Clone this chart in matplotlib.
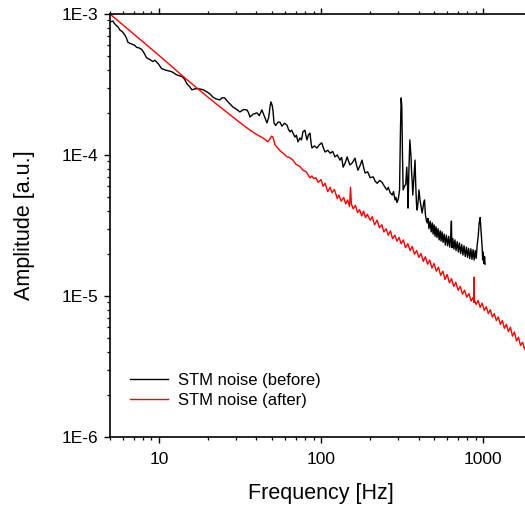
import matplotlib
matplotlib.use("Agg")
import matplotlib.pyplot as plt
from matplotlib.ticker import LogLocator, FixedLocator, FixedFormatter, NullFormatter

plt.rcParams["font.family"] = ["Liberation Sans", "DejaVu Sans"]

# STM noise spectrum before the fix (black)
before_freq = [
    5.0, 5.2, 5.4, 5.6, 5.75, 5.95, 6.17, 6.3, 6.45, 6.62, 6.85, 7.1, 7.3, 7.55, 7.85,
    8.1, 8.4, 8.8, 9.2, 9.45, 9.9, 10.4, 11.0, 11.5, 12.0, 12.9, 13.9, 14.4, 14.9, 15.5,
    16.0, 16.8, 17.9, 18.8, 19.8, 20.6, 21.5, 22.5, 23.8, 24.6, 25.5, 26.7, 27.5, 28.6,
    30.0, 31.6, 33.3, 34.9, 35.7, 36.5, 38.2, 40.3, 41.6, 43.2, 44.2, 45.1, 46.4, 47.6,
    48.5, 49.1, 50.0, 50.6, 51.3, 52.5, 54.3, 55.8, 57.5, 59.5, 61.7, 63.0, 64.4, 65.8,
    67.2, 69.1, 70.5, 72.1, 74.2, 75.8, 77.4, 79.6, 81.0, 82.0, 83.5, 85.5, 87.0, 88.0,
    91.0, 94.5, 97.5, 101, 103.5, 106, 110, 114, 118, 122, 126, 131, 134, 137, 141, 145,
    148, 151, 156, 162, 165, 169, 174, 179, 183, 187, 194, 201, 210, 216, 222, 230, 238,
    246, 255, 260, 267, 275, 280, 286, 290, 294, 300, 305, 309, 312, 315, 318, 321, 327,
    333, 338, 341, 344, 348, 353, 356, 359, 362, 365, 368, 371, 376, 380, 384, 388, 392,
    397, 402, 408, 414, 420, 425, 430, 435, 440, 445, 451, 457, 463, 471, 478, 485, 491,
    498, 505, 512, 519, 527, 535, 543, 550, 558, 566, 575, 584, 593, 603, 613, 622, 630,
    637, 641, 650, 660, 670, 680, 692, 703, 714, 726, 738, 750, 762, 775, 788, 800, 813,
    826, 840, 853, 866, 880, 893, 906, 918, 931, 945, 958, 968, 976, 986, 993, 1000, 1010,
    1020, 1028,
]
before_amp = [
    8.8e-4, 8.9e-4, 8.4e-4, 8.1e-4, 7.7e-4, 7.5e-4, 7.1e-4, 6.8e-4, 6.3e-4, 6.2e-4, 6.1e-4,
    6.0e-4, 5.8e-4, 5.75e-4, 5.6e-4, 5.3e-4, 4.9e-4, 4.75e-4, 4.6e-4, 4.7e-4, 4.45e-4,
    4.1e-4, 4.0e-4, 3.95e-4, 3.9e-4, 3.7e-4, 3.6e-4, 3.45e-4, 3.2e-4, 3.05e-4, 2.9e-4,
    2.95e-4, 2.94e-4, 2.9e-4, 2.8e-4, 2.72e-4, 2.58e-4, 2.5e-4, 2.46e-4, 2.55e-4, 2.54e-4,
    2.38e-4, 2.3e-4, 2.19e-4, 2.12e-4, 2.02e-4, 2.1e-4, 2.09e-4, 2.0e-4, 1.86e-4, 1.95e-4,
    1.99e-4, 1.9e-4, 2.09e-4, 1.95e-4, 1.83e-4, 1.69e-4, 1.85e-4, 2.2e-4, 2.38e-4, 2.25e-4,
    2.05e-4, 1.69e-4, 1.62e-4, 1.71e-4, 1.71e-4, 1.6e-4, 1.68e-4, 1.63e-4, 1.52e-4, 1.46e-4,
    1.5e-4, 1.43e-4, 1.34e-4, 1.38e-4, 1.24e-4, 1.32e-4, 1.28e-4, 1.46e-4, 1.5e-4, 1.35e-4,
    1.28e-4, 1.38e-4, 1.43e-4, 1.2e-4, 1.12e-4, 1.16e-4, 1.12e-4, 1.18e-4, 1.22e-4, 1.12e-4,
    1.05e-4, 1.08e-4, 1.03e-4, 1.06e-4, 9.7e-5, 1.0e-4, 9.2e-5, 9.6e-5, 8.2e-5, 8.8e-5,
    9.7e-5, 9.0e-5, 8.5e-5, 8.8e-5, 9.5e-5, 8.6e-5, 7.8e-5, 8.4e-5, 9.2e-5, 8.2e-5, 7.45e-5,
    7.6e-5, 6.9e-5, 7.0e-5, 6.5e-5, 6.3e-5, 6.6e-5, 6.4e-5, 6.0e-5, 5.65e-5, 5.9e-5, 5.4e-5,
    5.2e-5, 5.5e-5, 4.8e-5, 5.0e-5, 4.6e-5, 4.9e-5, 5.65e-5, 1.5e-4, 2.54e-4, 2.2e-4, 1.0e-4,
    5.65e-5, 6.0e-5, 6.2e-5, 8.2e-5, 6.5e-5, 4.2e-5, 7.5e-5, 1.28e-4, 1.1e-4, 9.7e-5, 7.5e-5,
    6.6e-5, 5.2e-5, 6.0e-5, 7.5e-5, 9.2e-5, 6.0e-5, 4.5e-5, 4.07e-5, 4.7e-5, 5.65e-5, 4.8e-5,
    4.3e-5, 3.88e-5, 4.2e-5, 4.6e-5, 4.8e-5, 3.8e-5, 3.5e-5, 3.3e-5, 3.55e-5, 3.0e-5,
    3.4e-5, 2.85e-5, 3.3e-5, 2.75e-5, 3.2e-5, 2.65e-5, 3.1e-5, 2.6e-5, 3.0e-5, 2.5e-5,
    2.9e-5, 2.45e-5, 2.85e-5, 2.4e-5, 2.75e-5, 2.3e-5, 2.7e-5, 2.27e-5, 2.65e-5, 2.22e-5,
    2.55e-5, 3.4e-5, 2.2e-5, 2.55e-5, 2.15e-5, 2.5e-5, 2.1e-5, 2.43e-5, 2.05e-5, 2.38e-5,
    2.0e-5, 2.32e-5, 1.95e-5, 2.27e-5, 1.91e-5, 2.22e-5, 1.88e-5, 2.18e-5, 1.84e-5, 2.16e-5,
    1.82e-5, 2.13e-5, 1.8e-5, 2.1e-5, 1.85e-5, 2.3e-5, 2.62e-5, 3.3e-5, 3.6e-5, 3.0e-5,
    2.62e-5, 2.2e-5, 1.8e-5, 2.05e-5, 1.7e-5, 1.9e-5, 1.68e-5,
]

# STM noise spectrum after the fix (red)
after_freq = [
    5.0, 10, 15, 22.2, 25, 28.6, 32, 36.5, 40, 43.9, 47, 48.4, 49.5, 50.6, 52, 56, 59,
    61.7, 64, 67.2, 70, 74, 77.4, 81, 85.5, 88, 90, 93, 96, 100, 103, 106, 110, 114, 117,
    121, 126, 129, 133, 138, 142, 146, 150, 152, 154, 158, 163, 168, 173, 178, 183, 188,
    193, 201, 207, 214, 222, 229, 237, 244, 252, 260, 268, 276, 285, 294, 303, 312, 322,
    332, 343, 354, 365, 377, 389, 401, 414, 427, 440, 454, 468, 483, 498, 514, 530, 547,
    564, 582, 600, 619, 638, 658, 678, 700, 722, 745, 768, 792, 817, 843, 868, 878, 880,
    882, 905, 931, 958, 986, 1015, 1045, 1075, 1106, 1138, 1171, 1205, 1240, 1276, 1313,
    1351, 1390, 1430, 1472, 1515, 1559, 1604, 1651, 1699, 1748, 1799, 1830, 1900,
]
after_amp = [
    1.0e-3, 5.1e-4, 3.4e-4, 2.34e-4, 2.1e-4, 1.86e-4, 1.68e-4, 1.5e-4, 1.4e-4, 1.32e-4,
    1.24e-4, 1.3e-4, 1.36e-4, 1.34e-4, 1.18e-4, 1.07e-4, 1.02e-4, 9.7e-5, 9.6e-5, 9.2e-5,
    8.6e-5, 8.3e-5, 7.8e-5, 7.6e-5, 6.9e-5, 7.1e-5, 6.8e-5, 6.9e-5, 6.4e-5, 6.7e-5, 6.0e-5,
    6.3e-5, 5.5e-5, 5.9e-5, 5.4e-5, 5.7e-5, 4.9e-5, 5.2e-5, 4.7e-5, 5.0e-5, 4.5e-5, 4.8e-5,
    4.3e-5, 5.9e-5, 4.5e-5, 4.15e-5, 4.4e-5, 3.9e-5, 4.1e-5, 3.7e-5, 4.0e-5, 3.6e-5, 3.8e-5,
    3.45e-5, 3.65e-5, 3.2e-5, 3.45e-5, 3.05e-5, 3.2e-5, 2.85e-5, 3.0e-5, 2.7e-5, 2.9e-5,
    2.55e-5, 2.7e-5, 2.45e-5, 2.6e-5, 2.35e-5, 2.5e-5, 2.2e-5, 2.35e-5, 2.1e-5, 2.25e-5,
    1.98e-5, 2.1e-5, 1.88e-5, 2.0e-5, 1.76e-5, 1.9e-5, 1.68e-5, 1.8e-5, 1.58e-5, 1.7e-5,
    1.5e-5, 1.6e-5, 1.4e-5, 1.5e-5, 1.31e-5, 1.42e-5, 1.24e-5, 1.33e-5, 1.17e-5, 1.25e-5,
    1.1e-5, 1.17e-5, 1.03e-5, 1.1e-5, 9.8e-6, 1.04e-5, 9.2e-6, 9.8e-6, 9.0e-6, 1.36e-5,
    9.4e-6, 8.7e-6, 9.3e-6, 8.3e-6, 8.9e-6, 7.9e-6, 8.4e-6, 7.5e-6, 8.0e-6, 7.1e-6, 7.5e-6,
    6.7e-6, 7.1e-6, 6.3e-6, 6.7e-6, 5.9e-6, 6.3e-6, 5.6e-6, 6.0e-6, 5.2e-6, 5.55e-6, 4.8e-6,
    5.1e-6, 4.45e-6, 4.7e-6, 4.2e-6, 4.4e-6, 4.1e-6,
]

x_ticks = [10, 100, 1000]
x_labels = ["10", "100", "1000"]
y_ticks = [1e-6, 1e-5, 1e-4, 1e-3]
y_labels = ["1E-6", "1E-5", "1E-4", "1E-3"]

fig = plt.figure(figsize=(5.25, 5.07), dpi=100)
# axes run past the right edge of the picture, like the original export
ax = fig.add_axes([110 / 525, 1 - 437 / 507, 422 / 525, 423 / 507])

ax.plot(before_freq, before_amp, color="black", lw=1.0, label="STM noise (before)")
ax.plot(after_freq, after_amp, color="red", lw=1.0, label="STM noise (after)")

ax.set_xscale("log")
ax.set_yscale("log")
ax.set_xlim(5, 2000)
ax.set_ylim(1e-6, 1e-3)

ax.xaxis.set_major_locator(FixedLocator(x_ticks))
ax.xaxis.set_major_formatter(FixedFormatter(x_labels))
ax.yaxis.set_major_locator(FixedLocator(y_ticks))
ax.yaxis.set_major_formatter(FixedFormatter(y_labels))
ax.xaxis.set_minor_locator(LogLocator(base=10, subs=range(2, 10)))
ax.yaxis.set_minor_locator(LogLocator(base=10, subs=range(2, 10)))
ax.xaxis.set_minor_formatter(NullFormatter())
ax.yaxis.set_minor_formatter(NullFormatter())

for s in ["left", "bottom", "top"]:
    ax.spines[s].set_linewidth(1.2)
ax.spines["right"].set_visible(False)

ax.tick_params(which="major", direction="out", length=4.5, width=1.0, labelsize=12.5, pad=4)
ax.tick_params(which="minor", direction="out", length=2.5, width=0.9)
ax.tick_params(axis="x", which="both", top=True)
ax.tick_params(axis="x", which="major", pad=6)

ax.set_xlabel("Frequency [Hz]", fontsize=15.5, labelpad=12)
ax.set_ylabel("Amplitude [a.u.]", fontsize=15.5, labelpad=19)

ax.legend(loc="upper left", bbox_to_anchor=(0.047, 0.151), frameon=False,
          fontsize=12, borderpad=0, borderaxespad=0, handlelength=2.3,
          handletextpad=0.6, labelspacing=0.3)

fig.savefig("out.png", dpi=100)
